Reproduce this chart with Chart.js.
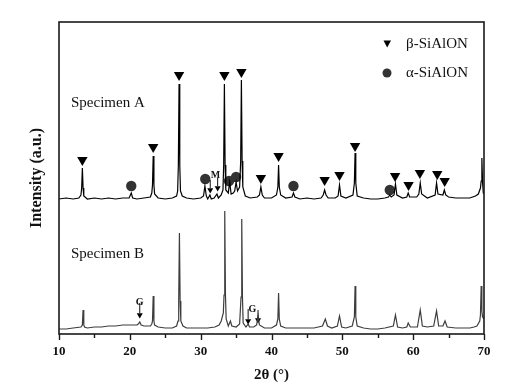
<!DOCTYPE html>
<html>
<head>
<meta charset="utf-8">
<script src="https://cdn.jsdelivr.net/npm/chart.js@4"></script>
<style>
  html, body { margin: 0; padding: 0; background: #fff; }
  #wrap { width: 515px; height: 392px; }
</style>
</head>
<body>
<div id="wrap"><canvas id="xrd"></canvas></div>
<script>
// 2theta / intensity (a.u.)
const angleA = [10, 11, 12, 12.8, 13.1, 13.2, 13.3, 13.4, 13.5, 14, 15, 16, 17, 18, 19, 19.9, 20.2, 20.4, 21, 22, 22.9, 23.1, 23.2, 23.3, 23.4, 23.5, 24, 25, 26, 26.6, 26.75, 26.85, 26.95, 27.05, 27.15, 27.4, 28, 29, 30, 30.4, 30.6, 30.8, 31.0, 31.3, 31.5, 31.9, 32.3, 32.5, 32.9, 33.15, 33.25, 33.35, 33.45, 33.55, 33.9, 34.1, 34.3, 34.6, 34.8, 35.0, 35.2, 35.5, 35.65, 35.75, 35.85, 35.95, 36.3, 37, 38, 38.3, 38.5, 38.7, 39, 40, 40.7, 40.9, 41.0, 41.1, 41.3, 42, 42.9, 43.1, 43.3, 44, 45, 46, 47, 47.3, 47.5, 47.7, 48, 49, 49.4, 49.6, 49.8, 50.5, 51.5, 51.7, 51.8, 51.9, 52.1, 53, 54, 55, 56, 56.5, 56.7, 56.9, 57.3, 57.5, 57.7, 58.5, 59.1, 59.3, 59.5, 60.5, 60.8, 61.0, 61.2, 62, 63.1, 63.3, 63.5, 64.2, 64.4, 64.6, 65, 66, 67, 68, 68.8, 69.2, 69.5, 69.6, 69.7, 69.8, 69.9, 70];
const intensityA = [134, 135, 134, 135, 138, 145, 165, 145, 137, 134, 135, 134, 135, 134, 135, 135, 140, 135, 134, 135, 136, 140, 148, 177, 148, 139, 135, 134, 135, 137, 142, 168, 249, 168, 142, 137, 135, 134, 135, 137, 147, 137, 134, 138, 134, 135, 139, 135, 138, 143, 168, 249, 168, 143, 140, 151, 139, 140, 142, 151, 142, 146, 172, 253, 172, 146, 137, 135, 136, 138, 146, 138, 135, 135, 138, 146, 168, 146, 138, 135, 136, 140, 136, 134, 135, 134, 135, 138, 143, 138, 135, 135, 137, 148, 137, 135, 138, 150, 180, 150, 137, 135, 134, 134, 135, 136, 138, 136, 138, 149, 138, 135, 136, 140, 136, 136, 139, 150, 139, 135, 138, 150, 139, 138, 143, 138, 136, 135, 135, 135, 137, 139, 145, 152, 175, 150, 140, 139];

const angleB = [10, 11, 12, 13.1, 13.3, 13.4, 13.5, 13.6, 14, 15, 16, 17, 18, 19, 20, 21, 21.2, 21.4, 21.6, 22, 22.9, 23.1, 23.2, 23.3, 23.4, 23.5, 24, 25, 26, 26.6, 26.8, 26.9, 27.0, 27.1, 27.2, 27.5, 28, 29, 30, 31, 32, 32.6, 32.9, 33.2, 33.3, 33.4, 33.5, 33.6, 33.9, 34.2, 34.4, 35, 35.5, 35.7, 35.8, 35.9, 36.0, 36.4, 36.7, 36.9, 37.5, 37.9, 38.1, 38.3, 39, 40, 40.7, 40.9, 41.0, 41.1, 41.3, 42, 43, 44, 45, 46, 47.2, 47.6, 47.9, 48.5, 49.3, 49.6, 49.9, 50.5, 51.4, 51.7, 51.8, 51.9, 52.1, 53, 54, 55, 56, 57.2, 57.5, 57.8, 58.5, 59.1, 59.3, 59.6, 60.6, 61.0, 61.3, 62, 62.9, 63.3, 63.6, 64.2, 64.5, 64.8, 66, 67, 68, 68.6, 69, 69.4, 69.5, 69.6, 69.7, 69.8, 70];
const intensityB = [4, 4, 5, 6, 8, 23, 8, 6, 5, 6, 6, 7, 7, 8, 8, 8, 9, 11, 8, 7, 7, 9, 12, 37, 12, 8, 6, 5, 5, 7, 12, 32, 100, 32, 12, 7, 5, 5, 5, 5, 6, 8, 12, 20, 38, 122, 38, 14, 7, 12, 7, 6, 9, 36, 114, 36, 10, 6, 9, 6, 6, 8, 17, 8, 5, 5, 8, 14, 40, 14, 7, 5, 5, 5, 5, 5, 7, 14, 7, 5, 7, 17, 6, 5, 7, 16, 47, 16, 7, 5, 4, 4, 5, 7, 18, 6, 5, 6, 10, 6, 6, 23, 7, 6, 7, 22, 7, 7, 12, 6, 5, 5, 5, 6, 7, 12, 18, 47, 22, 16, 14];

// phase markers
const betaAngle = [13.3, 23.3, 26.95, 33.35, 35.75, 38.5, 41.0, 47.5, 49.6, 51.8, 57.45, 59.35, 60.95, 63.4, 64.45];
const betaLevel = [173, 186, 258, 258, 261, 155, 177, 153, 158, 187, 157, 148, 160, 159, 152];
const alphaAngle = [20.2, 30.65, 34.0, 35.0, 43.1, 56.7];
const alphaLevel = [147, 154, 152, 156, 147, 143];
const mAngle = [31.35, 32.4];
const mLevel = [143, 145];
const gAngle = [21.4, 36.7, 38.1];
const gLevel = [18, 12, 13];

const xTicks = [10, 20, 30, 40, 50, 60, 70];

const serif = '"Liberation Serif", "Times New Roman", serif';
const toPts = (xs, ys) => xs.map((x, i) => ({x: x, y: ys[i]}));

const extras = {
  id: 'extras',
  afterDraw(chart) {
    const {ctx, chartArea: a, scales: {x, y}} = chart;
    ctx.save();
    // frame
    ctx.strokeStyle = '#1a1a1a';
    ctx.lineWidth = 1.6;
    ctx.strokeRect(a.left, a.top, a.right - a.left, a.bottom - a.top);
    // outward ticks, minor every 5
    ctx.lineWidth = 1.4;
    for (let v = 10; v <= 70; v += 5) {
      const px = Math.round(x.getPixelForValue(v)) + 0.5;
      ctx.beginPath();
      ctx.moveTo(px, a.bottom);
      ctx.lineTo(px, a.bottom + (v % 10 === 0 ? 6 : 4));
      ctx.stroke();
    }
    // arrow shafts
    ctx.lineWidth = 1;
    ctx.strokeStyle = '#111';
    const shaft = (ang, lvl, len) => {
      const px = x.getPixelForValue(ang), py = y.getPixelForValue(lvl);
      ctx.beginPath();
      ctx.moveTo(px, py - 2);
      ctx.lineTo(px, py - len);
      ctx.stroke();
    };
    mAngle.forEach((a2, i) => shaft(a2, mLevel[i], 10));
    shaft(gAngle[0], gLevel[0], 12);
    shaft(gAngle[1], gLevel[1], 12);
    shaft(gAngle[2], gLevel[2], 10);

    ctx.fillStyle = '#111';
    ctx.textBaseline = 'middle';
    ctx.textAlign = 'left';
    ctx.font = '15px ' + serif;
    ctx.fillText('Specimen A', 71, 103);
    ctx.fillText('Specimen B', 71, 254);
    ctx.font = 'bold 10px ' + serif;
    ctx.textAlign = 'center';
    ctx.fillText('M', x.getPixelForValue(32.1), y.getPixelForValue(158));
    ctx.fillText('G', x.getPixelForValue(21.4), y.getPixelForValue(31));
    ctx.fillText('G', x.getPixelForValue(37.3), y.getPixelForValue(24));

    // legend
    ctx.fillStyle = '#000';
    ctx.beginPath();
    ctx.moveTo(383.5, 40.5);
    ctx.lineTo(391, 40.5);
    ctx.lineTo(387.2, 47.5);
    ctx.closePath();
    ctx.fill();
    ctx.fillStyle = '#333';
    ctx.beginPath();
    ctx.arc(387, 73, 4.5, 0, Math.PI * 2);
    ctx.fill();
    ctx.fillStyle = '#111';
    ctx.textAlign = 'left';
    ctx.font = '15px ' + serif;
    ctx.fillText('β-SiAlON', 406, 44);
    ctx.fillText('α-SiAlON', 406, 73);
    ctx.restore();
  }
};

new Chart(document.getElementById('xrd'), {
  type: 'scatter',
  data: {
    datasets: [
      {label: 'Specimen A', data: toPts(angleA, intensityA), showLine: true, borderColor: '#000', borderWidth: 1.2, pointRadius: 0, tension: 0},
      {label: 'Specimen B', data: toPts(angleB, intensityB), showLine: true, borderColor: '#3d3d3d', borderWidth: 1.2, pointRadius: 0, tension: 0},
      {label: 'β-SiAlON', data: toPts(betaAngle, betaLevel), pointStyle: 'triangle', rotation: 180, pointRadius: 6, backgroundColor: '#000', borderColor: '#000', borderWidth: 0},
      {label: 'α-SiAlON', data: toPts(alphaAngle, alphaLevel), pointStyle: 'circle', pointRadius: 5.2, backgroundColor: '#333', borderColor: '#333', borderWidth: 0},
      {label: 'M', data: toPts(mAngle, mLevel), pointStyle: 'triangle', rotation: 180, pointRadius: 3.5, backgroundColor: '#000', borderColor: '#000', borderWidth: 0},
      {label: 'G', data: toPts(gAngle, gLevel), pointStyle: 'triangle', rotation: 180, pointRadius: 3.5, backgroundColor: '#000', borderColor: '#000', borderWidth: 0}
    ]
  },
  options: {
    responsive: true,
    maintainAspectRatio: false,
    animation: false,
    layout: {padding: {left: 23, right: 31, top: 22, bottom: 0}},
    plugins: {legend: {display: false}, tooltip: {enabled: false}},
    scales: {
      x: {
        type: 'linear', min: 10, max: 70,
        afterBuildTicks: (s) => { s.ticks = xTicks.map(v => ({value: v})); },
        afterFit: (s) => { s.height = 58; },
        grid: {display: false, drawTicks: false},
        border: {display: false},
        ticks: {padding: 10, color: '#111', font: {family: serif, size: 13, weight: 'bold'}},
        title: {display: true, text: '2θ (°)', color: '#111', padding: {top: 4, bottom: 8}, font: {family: serif, size: 15, weight: 'bold'}}
      },
      y: {
        type: 'linear', min: -1, max: 311,
        afterFit: (s) => { s.width = 36; },
        grid: {display: false, drawTicks: false},
        border: {display: false},
        ticks: {display: false},
        title: {display: true, text: 'Intensity (a.u.)', color: '#111', padding: {top: 4, bottom: 4}, font: {family: serif, size: 16, weight: 'bold'}}
      }
    }
  },
  plugins: [extras]
});
</script>
</body>
</html>
